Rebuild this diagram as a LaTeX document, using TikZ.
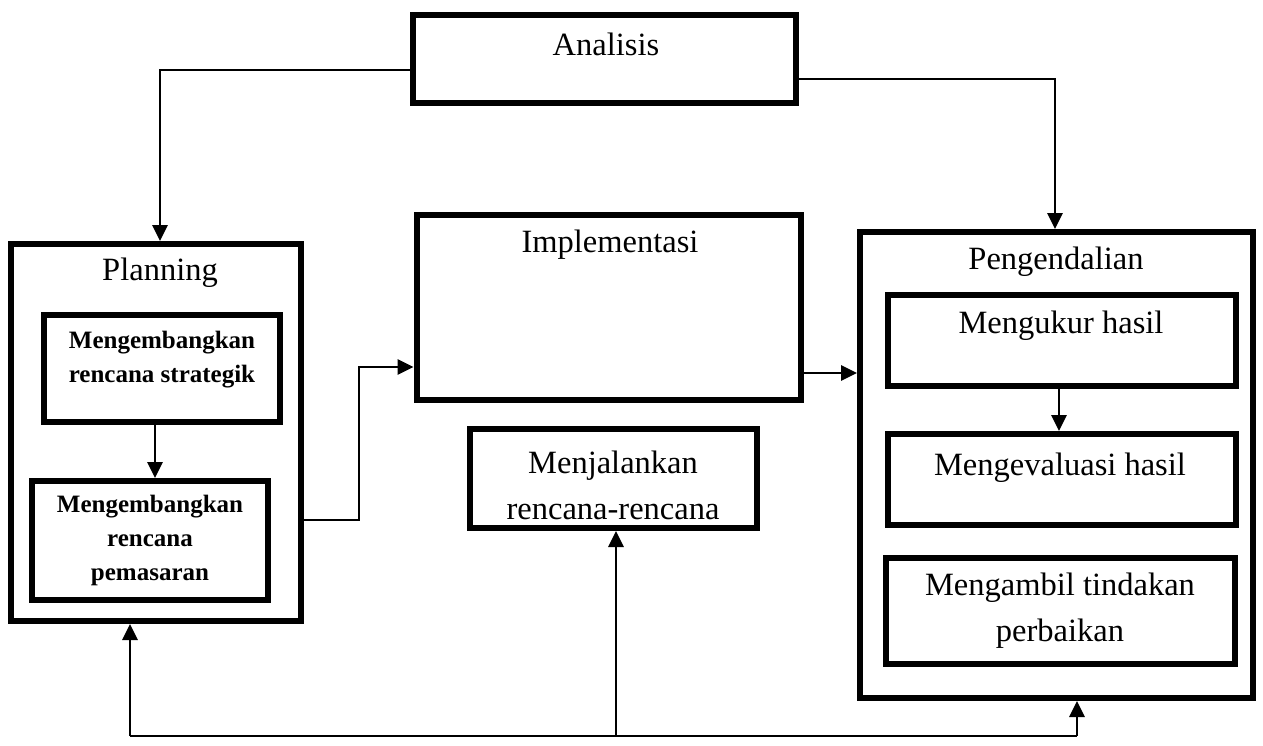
\documentclass[tikz,border=0pt]{standalone}
\usepackage{fontspec}
\setmainfont{Liberation Serif}
\usetikzlibrary{arrows.meta,calc}
\begin{document}
\begin{tikzpicture}[x=1pt,y=-1pt,
  box/.style={draw,line width=6pt,inner sep=0pt},
  txt/.style={align=center,inner sep=0pt,font=\fontsize{32.5}{46}\selectfont},
  btxt/.style={align=center,inner sep=0pt,font=\fontsize{25}{34}\selectfont\bfseries},
  arr/.style={line width=2.8pt,-{Triangle[length=16pt,width=15pt]}},
  ln/.style={line width=2.8pt}]
\useasboundingbox (0,0) rectangle (1263,745);
% boxes
\node[box,minimum width=383pt,minimum height=88pt] (an) at (604.5,59) {};
\node[txt] (antx) at (606,44) {Analisis};
\node[box,minimum width=290pt,minimum height=377pt] (pl) at (156,432.5) {};
\node[txt] (pltx) at (160,273) {Planning};
\node[box,minimum width=236pt,minimum height=107pt] (pb1) at (162,368.5) {};
\node[btxt] (pb1tx) at (162,360) {Mengembangkan\\rencana strategik};
\node[box,minimum width=236pt,minimum height=119pt] (pb2) at (150,540.5) {};
\node[btxt] (pb2tx) at (150,540) {Mengembangkan\\rencana\\pemasaran};
\node[box,minimum width=384pt,minimum height=185pt] (im) at (608.5,307.5) {};
\node[txt] (imtx) at (610,245) {Implementasi};
\node[box,minimum width=287pt,minimum height=99pt] (mj) at (613.5,478.5) {};
\node[txt] (mjtx) at (613,485) {Menjalankan\\rencana-rencana};
\node[box,minimum width=393pt,minimum height=466pt] (pg) at (1056.5,465) {};
\node[txt] (pgtx) at (1056,262) {Pengendalian};
\node[box,minimum width=348pt,minimum height=91pt] (pc1) at (1062,340.5) {};
\node[txt] (pc1tx) at (1061,326) {Mengukur hasil};
\node[box,minimum width=348pt,minimum height=91pt] (pc2) at (1062,479.5) {};
\node[txt] (pc2tx) at (1060,468) {Mengevaluasi hasil};
\node[box,minimum width=349pt,minimum height=106pt] (pc3) at (1060,610.5) {};
\node[txt] (pc3tx) at (1060,611) {Mengambil tindakan\\perbaikan};
% connectors
\coordinate (a1) at (160,70);
\coordinate (a2) at (1055,79);
\draw[arr] (an.west |- a1) -- (a1) -- (a1 |- pl.north);
\draw[arr] (an.east |- a2) -- (a2) -- (a2 |- pg.north);
\coordinate (c1) at (155,0);
\draw[arr] (pb1.south -| c1) -- (pb2.north -| c1);
\coordinate (p1) at (359,520);
\coordinate (p2) at (359,367);
\draw[arr] (pl.east |- p1) -- (p1) -- (p2) -- (im.west |- p2);
\coordinate (i1) at (830,373);
\draw[arr] (im.east |- i1) -- (pg.west |- i1);
\coordinate (c2) at (1059,0);
\draw[arr] (pc1.south -| c2) -- (pc2.north -| c2);
% feedback
\coordinate (fbL) at (130,736);
\coordinate (fbM) at (616,736);
\coordinate (fbR) at (1077,736);
\draw[ln] (fbL) -- (fbR);
\draw[arr] (fbL) -- (fbL |- pl.south);
\draw[arr] (fbM) -- (fbM |- mj.south);
\draw[arr] (fbR) -- (fbR |- pg.south);
\end{tikzpicture}
\end{document}
